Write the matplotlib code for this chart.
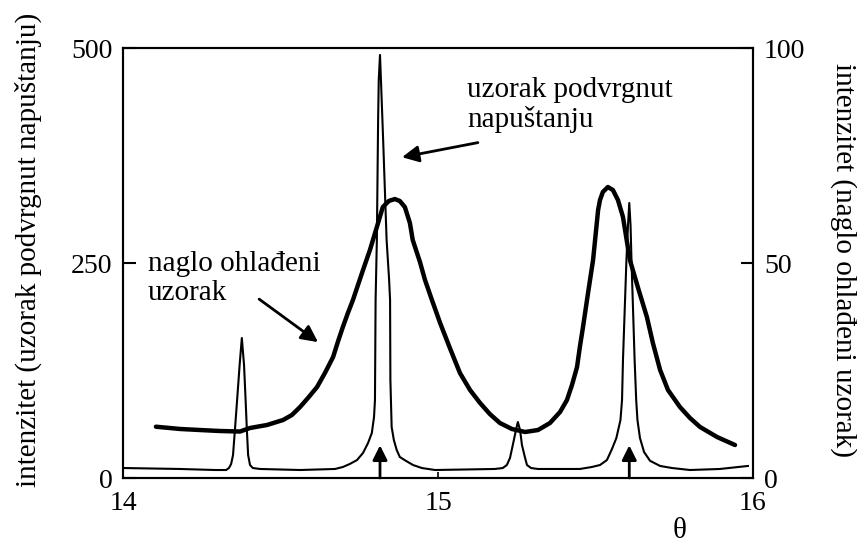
import matplotlib.pyplot as plt
import numpy as np

plt.rcParams['font.family'] = ['Liberation Serif', 'DejaVu Serif']

# uzorak podvrgnut napustanju (lijeva os, 0-500)
theta_nap = [14.002, 14.179, 14.291, 14.326, 14.335, 14.342, 14.348, 14.354, 14.361, 14.369,
             14.376, 14.383, 14.388, 14.392, 14.396, 14.402, 14.411, 14.434, 14.561, 14.672,
             14.697, 14.719, 14.742, 14.761, 14.777, 14.789, 14.796, 14.799, 14.801, 14.805,
             14.809, 14.811, 14.815, 14.818, 14.825, 14.836, 14.844, 14.847, 14.848, 14.852,
             14.859, 14.868, 14.878, 14.898, 14.920, 14.948, 14.990, 15.180, 15.205, 15.218,
             15.228, 15.237, 15.247, 15.253, 15.260, 15.266, 15.276, 15.282, 15.295, 15.317,
             15.450, 15.488, 15.514, 15.536, 15.552, 15.566, 15.579, 15.584, 15.587, 15.598,
             15.603, 15.607, 15.611, 15.614, 15.624, 15.629, 15.633, 15.641, 15.654, 15.673,
             15.705, 15.743, 15.800, 15.895, 15.984]
int_nap = [11.6, 10.5, 9.3, 9.3, 11.6, 16.3, 26.7, 55.8, 90.7, 131.4,
           162.8, 131.4, 90.7, 55.8, 26.7, 15.1, 11.6, 10.5, 9.3, 10.5,
           12.8, 16.3, 20.9, 29.1, 40.7, 52.3, 70.9, 90.7, 207, 276.7,
           416.3, 462.8, 491.9, 462.8, 393.0, 276.7, 230.2, 207.0, 114.0, 59.3,
           44.2, 32.6, 24.4, 19.8, 15.1, 11.6, 9.3, 10.5, 11.6, 15.1,
           23.3, 38.4, 55.8, 65.1, 55.8, 38.4, 23.3, 15.1, 11.6, 10.5,
           10.5, 12.8, 15.1, 20.9, 33.7, 46.5, 67.4, 90.7, 137.2, 253.5,
           294.2, 319.8, 294.2, 253.5, 137.2, 90.7, 67.4, 46.5, 30.2, 20.0,
           14.0, 11.6, 9.3, 10.5, 14.0]

# naglo ohladeni uzorak (desna os, 0-100)
theta_ohl = [14.103, 14.180, 14.243, 14.307, 14.370, 14.402, 14.456, 14.507, 14.535, 14.561,
             14.586, 14.615, 14.640, 14.666, 14.681, 14.697, 14.713, 14.729, 14.761, 14.783,
             14.805, 14.824, 14.843, 14.862, 14.878, 14.894, 14.910, 14.919, 14.942, 14.958,
             14.980, 15.006, 15.037, 15.069, 15.101, 15.133, 15.164, 15.196, 15.234, 15.276,
             15.317, 15.355, 15.387, 15.409, 15.425, 15.441, 15.450, 15.460, 15.476, 15.492,
             15.508, 15.514, 15.523, 15.539, 15.555, 15.571, 15.587, 15.609, 15.635, 15.663,
             15.682, 15.705, 15.730, 15.768, 15.800, 15.832, 15.886, 15.943]
int_ohl = [11.93, 11.40, 11.16, 10.93, 10.81, 11.63, 12.33, 13.49, 14.65, 16.51,
           18.60, 21.16, 24.42, 28.14, 31.63, 35.12, 38.37, 41.40, 48.37, 53.02,
           58.37, 63.02, 64.42, 64.88, 64.42, 63.02, 59.30, 55.35, 50.23, 46.05,
           41.40, 36.05, 30.23, 24.42, 20.47, 17.44, 14.88, 12.79, 11.40, 10.70,
           11.16, 12.79, 15.35, 18.14, 21.63, 25.81, 30.47, 35.12, 43.02, 50.70,
           62.33, 64.65, 66.51, 67.67, 66.98, 64.65, 60.70, 50.70, 44.19, 37.44,
           31.40, 25.12, 20.47, 16.51, 13.95, 11.86, 9.53, 7.67]

marked = [14.815, 15.607]
left_ticks = [0, 250, 500]
right_ticks = [0, 50, 100]
x_ticks = [14, 15, 16]

fig = plt.figure(figsize=(8.57, 5.5), dpi=100)
ax = fig.add_axes([0.1441, 0.1309, 0.7345, 0.7818])
ax2 = ax.twinx()

ax.plot(theta_nap, int_nap, color='black', lw=1.5)
ax2.plot(theta_ohl, int_ohl, color='black', lw=3.2, solid_capstyle='round',
         solid_joinstyle='round')

ax.set_xlim(14, 16)
ax.set_ylim(0, 500)
ax2.set_ylim(0, 100)
ax.set_xticks(x_ticks)
ax.set_yticks(left_ticks)
ax2.set_yticks(right_ticks)

for a in (ax, ax2):
    for s in a.spines.values():
        s.set_linewidth(1.5)
ax.tick_params(axis='y', direction='in', length=9, width=1.5, pad=8, labelsize=20)
ax.tick_params(axis='x', direction='in', length=4, width=1.2, pad=9, labelsize=20)
ax2.tick_params(axis='y', direction='in', length=9, width=1.5, pad=8, labelsize=20)

ax.set_ylabel('intenzitet (uzorak podvrgnut napuštanju)', fontsize=21)
ax.yaxis.set_label_coords(-0.129, 0.53)
ax2.set_ylabel('intenzitet (naglo ohlađeni uzorak)', fontsize=21, rotation=270, va='center')
ax2.yaxis.set_label_coords(1.143, 0.507)
ax.set_xlabel('θ', fontsize=21)
ax.xaxis.set_label_coords(0.884, -0.094)

for m in marked:
    ax.annotate('', xy=(m, 38), xytext=(m, 0),
                arrowprops=dict(arrowstyle='-|>', lw=2, color='black',
                                mutation_scale=22, shrinkA=0, shrinkB=0))

ax.text(14.078, 232, 'naglo ohlađeni\nuzorak', fontsize=21, ha='left', va='center',
        linespacing=1.12)
ax.annotate('', xy=(14.618, 158), xytext=(14.431, 208),
            arrowprops=dict(arrowstyle='-|>', lw=2, color='black', mutation_scale=25,
                            shrinkA=0, shrinkB=0))
ax.text(15.091, 434, 'uzorak podvrgnut\nnapuštanju', fontsize=21, ha='left', va='center',
        linespacing=1.12)
ax.annotate('', xy=(14.885, 373), xytext=(15.126, 390),
            arrowprops=dict(arrowstyle='-|>', lw=2, color='black', mutation_scale=25,
                            shrinkA=0, shrinkB=0))

fig.savefig('out.png', dpi=100)
